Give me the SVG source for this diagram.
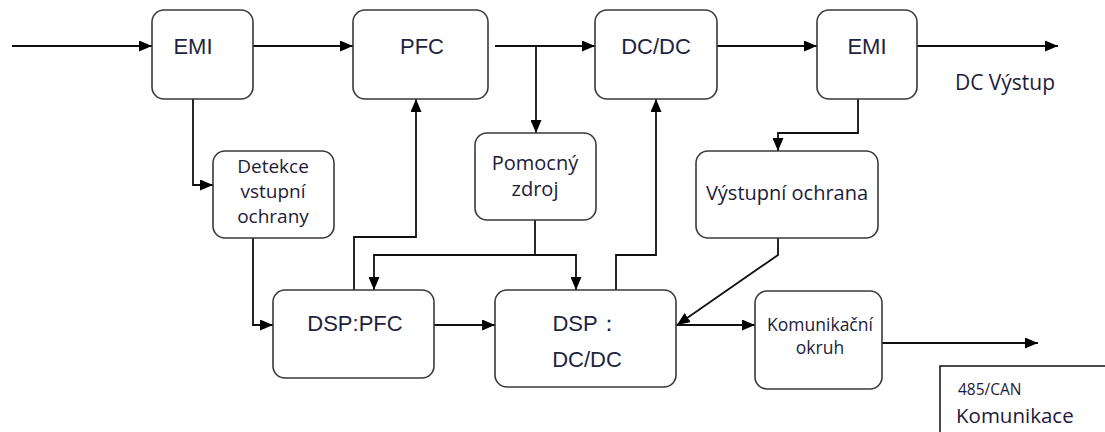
<svg xmlns="http://www.w3.org/2000/svg" width="1105" height="432" viewBox="0 0 1105 432">
<style>
.box{fill:#fff;stroke:#3a3a3a;stroke-width:1.6}
.ln{fill:none;stroke:#111;stroke-width:1.8}
.t1{font-family:"Liberation Sans",Arial,sans-serif;font-size:22px;fill:#1e2340;text-anchor:middle}
.t2{font-family:"Open Sans","Noto Sans",sans-serif;font-size:20px;fill:#1e1a3a;text-anchor:middle}
</style>
<defs>
<marker id="ah" markerUnits="userSpaceOnUse" markerWidth="13" markerHeight="11" refX="13" refY="5.5" orient="auto">
<path d="M0,0 L13,5.5 L0,11 z" fill="#000"/>
</marker>
</defs>
<rect width="1105" height="432" fill="#fff"/>
<g id="connectors">
<path class="ln" d="M12,46 H152" marker-end="url(#ah)"/>
<path class="ln" d="M253,46 H353" marker-end="url(#ah)"/>
<path class="ln" d="M495,46 H595" marker-end="url(#ah)"/>
<path class="ln" d="M536,46 V133" marker-end="url(#ah)"/>
<path class="ln" d="M717,46 H817" marker-end="url(#ah)"/>
<path class="ln" d="M917,46 H1058" marker-end="url(#ah)"/>
<path class="ln" d="M193,99 V185 H213" marker-end="url(#ah)"/>
<path class="ln" d="M253,238 V325 H273" marker-end="url(#ah)"/>
<path class="ln" d="M354,290 V237 H416 V99" marker-end="url(#ah)"/>
<path class="ln" d="M535,220 V255"/>
<path class="ln" d="M535,255 H374 V290" marker-end="url(#ah)"/>
<path class="ln" d="M535,255 H576 V290" marker-end="url(#ah)"/>
<path class="ln" d="M616,290 V255 H656 V99" marker-end="url(#ah)"/>
<path class="ln" d="M858,99 V133 H778 V151" marker-end="url(#ah)"/>
<path class="ln" d="M778,238 V255 L677,325" marker-end="url(#ah)"/>
<path class="ln" d="M434,325 H495" marker-end="url(#ah)"/>
<path class="ln" d="M676,325 H755" marker-end="url(#ah)"/>
<path class="ln" d="M882,343 H1038" marker-end="url(#ah)"/>
</g>
<g id="emi1"><rect class="box" x="152" y="10" width="101" height="89" rx="12"/><text class="t1" x="193" y="54">EMI</text></g>
<g id="pfc"><rect class="box" x="353" y="10" width="135" height="89" rx="12"/><text class="t1" x="422" y="54">PFC</text></g>
<g id="dcdc"><rect class="box" x="595" y="10" width="122" height="89" rx="12"/><text class="t1" x="656" y="54">DC/DC</text></g>
<g id="emi2"><rect class="box" x="817" y="10" width="100" height="89" rx="12"/><text class="t1" x="867" y="54">EMI</text></g>
<g id="out-label"><text class="t2" x="1005" y="90" style="font-size:21px">DC Výstup</text></g>
<g id="detekce"><rect class="box" x="213" y="151" width="121" height="87" rx="12"/>
<text class="t2" x="273" y="173" style="font-size:19px">Detekce</text>
<text class="t2" x="273" y="198" style="font-size:19px">vstupní</text>
<text class="t2" x="273" y="223" style="font-size:19px">ochrany</text></g>
<g id="pomocny"><rect class="box" x="475" y="133" width="121" height="87" rx="12"/>
<text class="t2" x="535" y="170">Pomocný</text>
<text class="t2" x="535" y="196">zdroj</text></g>
<g id="vystupni"><rect class="box" x="696" y="151" width="182" height="87" rx="12"/>
<text class="t2" x="787" y="200">Výstupní ochrana</text></g>
<g id="dsppfc"><rect class="box" x="273" y="290" width="161" height="88" rx="12"/><text class="t1" x="355" y="331">DSP:PFC</text></g>
<g id="dspdcdc"><rect class="box" x="495" y="290" width="181" height="97" rx="12"/>
<text class="t1" x="586" y="331">DSP：</text>
<text class="t1" x="587" y="367">DC/DC</text></g>
<g id="komunikacni"><rect class="box" x="755" y="291" width="127" height="98" rx="12"/>
<text class="t2" x="820" y="331" style="font-size:17.5px">Komunikační</text>
<text class="t2" x="820" y="354" style="font-size:17.5px">okruh</text></g>
<g id="can"><path d="M940,432 V366 H1105" fill="none" stroke="#111" stroke-width="1.5"/>
<text class="t2" x="958" y="395" style="font-size:15.5px;text-anchor:start">485/CAN</text>
<text class="t2" x="956" y="423" style="font-size:20.5px;text-anchor:start">Komunikace</text></g>
</svg>
